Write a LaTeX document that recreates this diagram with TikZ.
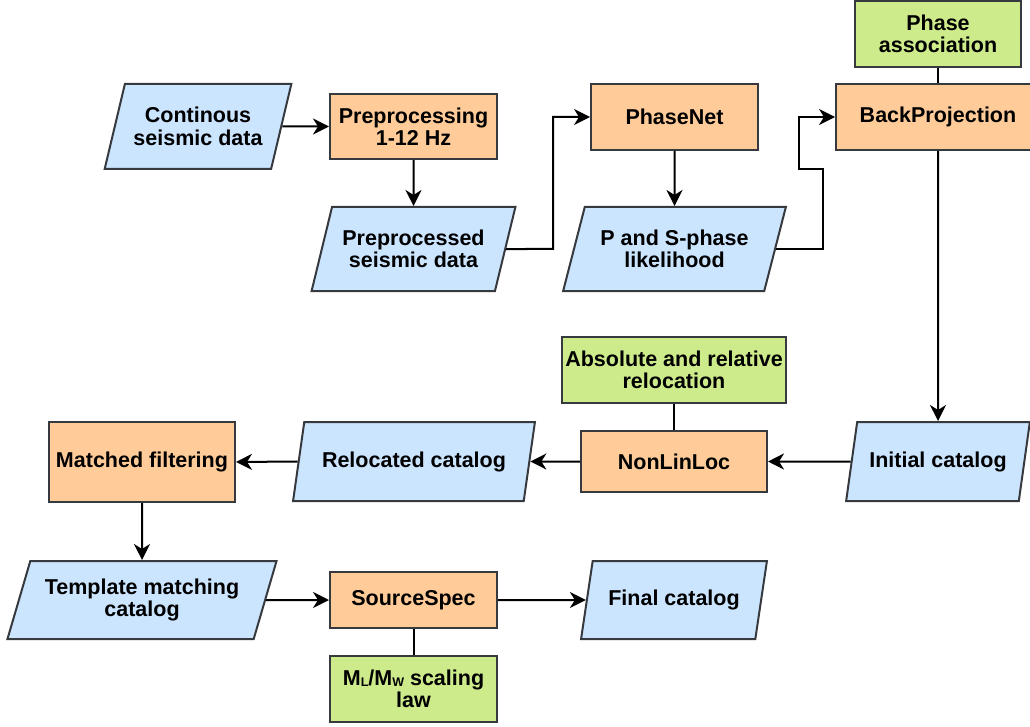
\documentclass[tikz,border=0pt]{standalone}
\usepackage{fontspec}
\setmainfont{Liberation Sans}
\usetikzlibrary{shapes.geometric,arrows.meta}
\definecolor{fOrange}{HTML}{FFCC99}
\definecolor{fBlue}{HTML}{CCE5FF}
\definecolor{fGreen}{HTML}{CDEB8B}
\definecolor{sGray}{HTML}{36393D}
\tikzset{
  base/.style={draw=sGray, line width=2pt, inner sep=0pt, align=center,
    font=\fontsize{21.5}{22.5}\selectfont\bfseries, text=black},
  procbox/.style={base, rectangle, fill=fOrange},
  notebox/.style={base, rectangle, fill=fGreen},
  databox/.style={base, trapezium, trapezium left angle=65, trapezium right angle=115,
    trapezium stretches=true, fill=fBlue},
  arr/.style={draw=black, line width=2pt, -{Stealth[length=16pt, width=16pt, inset=5pt]}},
  link/.style={draw=black, line width=2pt},
}
\begin{document}
\begin{tikzpicture}[x=1pt, y=-1pt]
\useasboundingbox (0,0) rectangle (1030,727);
% process boxes
\node[procbox, minimum width=167pt, minimum height=65pt] (pre) at (413.5,126.5) {Preprocessing\\1-12 Hz};
\node[procbox, minimum width=167pt, minimum height=66pt] (pnet) at (674.5,117) {PhaseNet};
\node[procbox, minimum width=204pt, minimum height=66pt] (bp) at (938,117) {BackProjection};
\node[notebox, minimum width=166pt, minimum height=66pt] (pa) at (938,34) {Phase\\association};
\node[procbox, minimum width=186pt, minimum height=61pt] (nll) at (674,461.5) {NonLinLoc};
\node[notebox, minimum width=224pt, minimum height=66pt] (rel) at (674,370) {Absolute and relative\\relocation};
\node[procbox, minimum width=186pt, minimum height=80pt] (mf) at (142,462) {Matched filtering};
\node[procbox, minimum width=167pt, minimum height=56pt] (ss) at (413.5,600) {SourceSpec};
\node[notebox, minimum width=167pt, minimum height=66pt] (ml) at (413.5,689)
  {M\raisebox{-1.5pt}{\fontsize{12.5}{12.5}\selectfont L}/M\raisebox{-1.5pt}{\fontsize{12.5}{12.5}\selectfont W} scaling\\law};
% data parallelograms
\node[databox, minimum width=187pt, minimum height=85pt] (cont) at (198,126.5) {Continous\\seismic data};
\node[databox, minimum width=204pt, minimum height=84pt] (ppd) at (413.5,249) {Preprocessed\\seismic data};
\node[databox, minimum width=223pt, minimum height=84pt] (ps) at (674.5,249) {P and S-phase\\likelihood};
\node[databox, minimum width=184pt, minimum height=79pt] (init) at (938,461.5) {Initial catalog};
\node[databox, minimum width=242pt, minimum height=79pt] (reloc) at (414,461.5) {Relocated catalog};
\node[databox, minimum width=270pt, minimum height=78pt] (tmc) at (142,600) {Template matching\\catalog};
\node[databox, minimum width=186pt, minimum height=78pt] (fin) at (674,600) {Final catalog};
% bend points
\coordinate (j1) at (553,249);
\coordinate (j2) at (823,169);
\coordinate (j3) at (799,169);
% connectors
\draw[arr] (cont.east) -- (pre.west);
\draw[arr] (pre.south) -- (ppd.north);
\draw[arr] (ppd.east) -- (j1) |- (pnet.west);
\draw[arr] (pnet.south) -- (ps.north);
\draw[arr] (ps.east) -| (j2) -- (j3) |- (bp.west);
\draw[link] (pa.south) -- (bp.north);
\draw[arr] (bp.south) -- (init.north);
\draw[arr] (init.west) -- (nll.east);
\draw[link] (rel.south) -- (nll.north);
\draw[arr] (nll.west) -- (reloc.east);
\draw[arr] (reloc.west) -- (mf.east);
\draw[arr] (mf.south) -- (tmc.north);
\draw[arr] (tmc.east) -- (ss.west);
\draw[link] (ss.south) -- (ml.north);
\draw[arr] (ss.east) -- (fin.west);
\end{tikzpicture}
\end{document}
